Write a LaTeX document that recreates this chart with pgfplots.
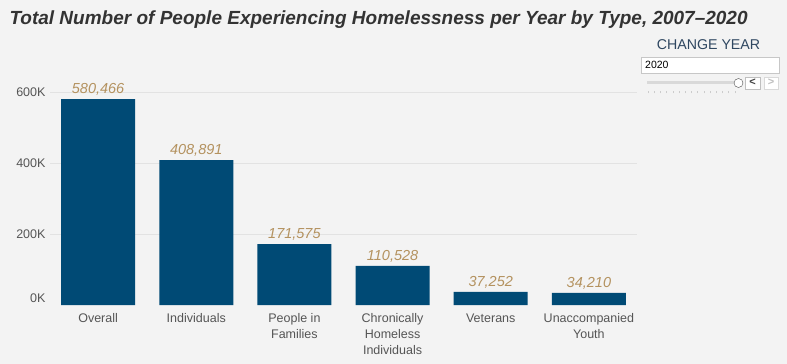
\documentclass[border=0pt]{standalone}
\usepackage{pgfplots}
\usepackage{pgfplotstable}
\pgfplotsset{compat=1.18}
\usepackage{fontspec}
\setmainfont{Liberation Sans}
\definecolor{bg}{HTML}{F3F3F3}
\definecolor{barc}{HTML}{004A75}
\definecolor{labc}{HTML}{B4925F}
\definecolor{gridc}{HTML}{E2E2E2}
\definecolor{tickc}{HTML}{555555}
\definecolor{titlec}{HTML}{333333}
\definecolor{widc}{HTML}{2E4660}
\pgfplotstableread{
x y lab
0 580466 580,466
1 408891 408,891
2 171575 171,575
3 110528 110,528
4 37252 37,252
5 34210 34,210
}\datatab
\begin{document}
\begin{tikzpicture}[x=1pt,y=1pt]
\fill[bg] (0,0) rectangle (787,364);
\node[anchor=west,text=titlec,font=\fontsize{19}{22}\selectfont\bfseries\itshape] at (6,344.5) {Total Number of People Experiencing Homelessness per Year by Type, 2007--2020};
% widget
\node[text=widc,font=\fontsize{14.2}{16}\selectfont] at (708.5,319) {CHANGE YEAR};
\draw[draw=black!22,fill=white] (641,291) rectangle (779,307);
\node[anchor=west,font=\fontsize{10.5}{12}\selectfont,inner sep=0] at (645,299) {2020};
\draw[line width=3pt,black!15] (647,281) -- (734,281);
\draw[black!70,fill=white] (738.5,281) circle (4.5);
\draw[black!25,fill=white] (745,275) rectangle (760,287);
\node[font=\fontsize{11}{12}\selectfont\bfseries,inner sep=0,text=black!75] at (752.5,281.5) {<};
\draw[black!15,fill=white] (764,275) rectangle (778,287);
\node[font=\fontsize{11}{12}\selectfont\bfseries,inner sep=0,text=black!25] at (771,281.5) {>};
\foreach \i in {0,...,14} \draw[black!20] (648+\i*6.2,270.5) -- (648+\i*6.2,273);
\begin{axis}[
  at={(50pt,59pt)}, anchor=south west,
  scale only axis, width=587pt, height=234pt,
  xmin=-0.49, xmax=5.49, ymin=0, ymax=660000,
  axis line style={draw=none},
  tick style={draw=none},
  ytick={200000,400000,600000},
  yticklabels={200K,400K,600K},
  extra y ticks={0},
  extra y tick labels={0K},
  extra y tick style={grid=none, yticklabel style={yshift=7pt}},
  ymajorgrids, grid style={gridc, line width=0.8pt},
  yticklabel style={text=tickc, font=\fontsize{12.5}{14}\selectfont, xshift=-1pt},
  xtick=data,
  xticklabels={Overall, Individuals, {People in\\Families}, {Chronically\\Homeless\\Individuals}, Veterans, {Unaccompanied\\Youth}},
  xticklabel style={text=tickc, align=center, font=\fontsize{12.5}{16}\selectfont, anchor=north, yshift=-1pt},
  scaled y ticks=false,
  ybar, bar width=74pt,
  nodes near coords,
  point meta=explicit symbolic,
  every node near coord/.append style={text=labc, font=\fontsize{14.5}{16}\selectfont\itshape, yshift=0pt},
  clip=false,
]
\addplot[fill=barc, draw=none] table[x=x, y=y, meta=lab] {\datatab};
\end{axis}
\end{tikzpicture}
\end{document}
